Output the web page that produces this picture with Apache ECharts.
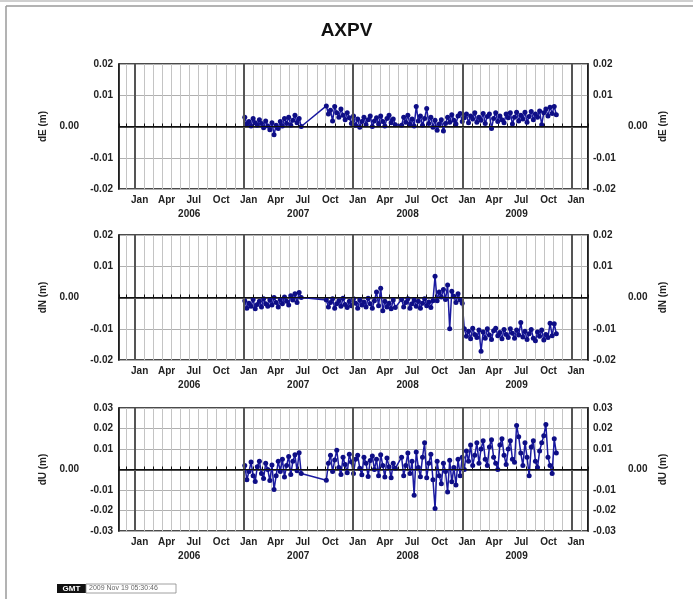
<!DOCTYPE html>
<html>
<head>
<meta charset="utf-8">
<title>AXPV</title>
<script src="https://cdn.jsdelivr.net/npm/echarts@6/dist/echarts.min.js"></script>
<style>
html, body { margin: 0; padding: 0; background: #fff; }
#chart { width: 693px; height: 599px; }
</style>
</head>
<body>
<div id="chart"></div>
<script>
// weekly samples inside each window, the line bridges the gaps between them
var segments = [
    ['2007-01-03', '2007-07-11'],
    ['2007-10-03', '2008-05-21'],
    ['2008-06-11', '2009-11-11']
];

var dE = [
    // 2007 Jan - Jul
    0.0030, 0.0008, 0.0016, 0.0002, 0.0026, 0.0012, 0.0004, 0.0022, 0.0010, -0.0004,
    0.0018, 0.0002, -0.0010, 0.0012, -0.0026, 0.0004, -0.0006, 0.0016, 0.0002, 0.0026,
    0.0010, 0.0030, 0.0004, 0.0020, 0.0036, 0.0012, 0.0026, 0.0000,
    // 2007 Oct - 2008 May
    0.0066, 0.0040, 0.0052, 0.0018, 0.0064, 0.0044, 0.0030, 0.0056, 0.0036, 0.0022,
    0.0044, 0.0028, 0.0010, 0.0034, 0.0004, 0.0024, -0.0002, 0.0016, 0.0030, 0.0006,
    0.0022, 0.0034, 0.0000, 0.0018, 0.0028, 0.0008, 0.0034, 0.0016, 0.0002, 0.0026,
    0.0036, 0.0012, 0.0024, 0.0006,
    // 2008 Jun - 2009 Nov
    0.0004, 0.0030, 0.0014, 0.0036, 0.0008, 0.0024, 0.0002, 0.0064, 0.0018, 0.0034,
    0.0004, 0.0026, 0.0058, 0.0010, 0.0030, -0.0002, 0.0020, -0.0012, 0.0008, 0.0022,
    -0.0014, 0.0010, 0.0030, 0.0014, 0.0038, 0.0020, 0.0008, 0.0034, 0.0042, 0.0016,
    0.0028, 0.0040, 0.0012, 0.0034, 0.0024, 0.0044, 0.0014, 0.0030, 0.0020, 0.0042,
    0.0010, 0.0032, 0.0040, -0.0006, 0.0026, 0.0044, 0.0016, 0.0034, 0.0022, 0.0012,
    0.0040, 0.0028, 0.0044, 0.0008, 0.0030, 0.0046, 0.0018, 0.0036, 0.0024, 0.0046,
    0.0014, 0.0032, 0.0048, 0.0022, 0.0040, 0.0030, 0.0050, 0.0006, 0.0044, 0.0056,
    0.0034, 0.0062, 0.0042, 0.0064, 0.0038
];

var dN = [
    -0.0010, -0.0034, -0.0018, -0.0028, -0.0006, -0.0036, -0.0022, -0.0012, -0.0030, -0.0004,
    -0.0020, -0.0028, -0.0008, -0.0024, 0.0000, -0.0016, -0.0030, -0.0006, -0.0020, 0.0002,
    -0.0012, -0.0024, 0.0006, -0.0008, 0.0012, -0.0016, 0.0016, 0.0000,

    -0.0008, -0.0030, -0.0016, -0.0004, -0.0034, -0.0020, -0.0010, -0.0028, -0.0002, -0.0022,
    -0.0032, -0.0012, -0.0026, -0.0004, -0.0018, -0.0034, -0.0008, -0.0024, -0.0014, -0.0030,
    -0.0002, -0.0020, -0.0034, -0.0010, 0.0018, -0.0026, 0.0030, -0.0042, -0.0012, -0.0030,
    -0.0018, -0.0036, -0.0008, -0.0032,

    -0.0006, -0.0030, -0.0016, -0.0004, -0.0034, -0.0020, -0.0008, -0.0028, -0.0012, -0.0034,
    -0.0018, -0.0004, -0.0026, -0.0014, -0.0032, -0.0010, 0.0068, -0.0010, 0.0018, 0.0002,
    0.0026, -0.0006, 0.0040, -0.0100, 0.0020, 0.0004, -0.0016, 0.0012, -0.0008, -0.0018,
    -0.0100, -0.0124, -0.0108, -0.0132, -0.0098, -0.0118, -0.0128, -0.0104, -0.0172, -0.0110,
    -0.0130, -0.0100, -0.0120, -0.0134, -0.0106, -0.0098, -0.0122, -0.0112, -0.0132, -0.0102,
    -0.0118, -0.0128, -0.0100, -0.0114, -0.0130, -0.0104, -0.0120, -0.0080, -0.0126, -0.0108,
    -0.0134, -0.0116, -0.0102, -0.0130, -0.0138, -0.0110, -0.0124, -0.0104, -0.0136, -0.0118,
    -0.0128, -0.0082, -0.0122, -0.0084, -0.0116
];

var dU = [
    0.0020, -0.0050, -0.0010, 0.0036, -0.0030, -0.0058, 0.0014, 0.0040, -0.0020, -0.0044,
    0.0030, 0.0000, -0.0054, 0.0022, -0.0098, -0.0030, 0.0040, -0.0010, 0.0050, -0.0036,
    0.0020, 0.0064, -0.0024, 0.0040, 0.0072, -0.0006, 0.0082, -0.0020,

    -0.0052, 0.0030, 0.0070, -0.0010, 0.0046, 0.0094, 0.0010, -0.0024, 0.0060, 0.0024,
    -0.0016, 0.0074, 0.0036, -0.0020, 0.0050, 0.0070, 0.0006, -0.0026, 0.0060, 0.0030,
    -0.0034, 0.0044, 0.0066, 0.0000, 0.0050, -0.0030, 0.0072, 0.0020, -0.0036, 0.0056,
    0.0014, -0.0040, 0.0030, 0.0006,

    0.0060, -0.0030, 0.0020, 0.0080, -0.0020, 0.0040, -0.0125, 0.0085, 0.0010, -0.0035,
    0.0060, 0.0130, -0.0040, 0.0030, 0.0075, -0.0050, -0.0190, 0.0040, -0.0030, -0.0070,
    0.0030, -0.0010, -0.0110, 0.0045, -0.0060, 0.0010, -0.0075, 0.0050, -0.0030, 0.0060,
    0.0000, 0.0090, 0.0040, 0.0120, 0.0020, 0.0070, 0.0130, 0.0030, 0.0100, 0.0140,
    0.0050, 0.0020, 0.0110, 0.0145, 0.0060, 0.0030, 0.0000, 0.0120, 0.0150, 0.0070,
    0.0025, 0.0100, 0.0140, 0.0050, 0.0035, 0.0215, 0.0160, 0.0080, 0.0020, 0.0130,
    0.0060, -0.0030, 0.0110, 0.0140, 0.0040, 0.0010, 0.0090, 0.0130, 0.0165, 0.0220,
    0.0060, 0.0020, -0.0020, 0.0150, 0.0080
];

var quarterNames = ['Jan', 'Apr', 'Jul', 'Oct'];
var yearLines = ['2006-01-01', '2007-01-01', '2008-01-01', '2009-01-01', '2010-01-01'];
var timeStart = '2005-11-08';
var timeEnd = '2010-02-25';

var panels = [
    { name: 'dE (m)', values: dE, min: -0.02, max: 0.02, top: 64, height: 125 },
    { name: 'dN (m)', values: dN, min: -0.02, max: 0.02, top: 235, height: 125 },
    { name: 'dU (m)', values: dU, min: -0.03, max: 0.03, top: 408, height: 123 }
];

function utc(s) {
    return Date.parse(s + 'T00:00:00Z');
}

var dates = [];
segments.forEach(function (s) {
    for (var t = utc(s[0]); t <= utc(s[1]); t += 7 * 864e5) {
        dates.push(t);
    }
});

var labelFont = { fontFamily: 'Liberation Sans', fontSize: 10, fontWeight: 'bold', color: '#222' };

function yLabel(v) {
    if (Math.abs(v) < 1e-9) return '{z|0.00}';
    return v.toFixed(2);
}

function xLabel(v) {
    var d = new Date(v);
    if (d.getUTCDate() !== 1 || d.getUTCMonth() % 3) return '';
    var m = d.getUTCMonth();
    var s = '{m|' + quarterNames[m / 3] + '}';
    if (m === 6) s += '\n{y|' + d.getUTCFullYear() + '}';
    return s;
}

var grid = [], xAxis = [], yAxis = [], series = [];

panels.forEach(function (p, i) {
    grid.push({
        left: 119, right: 105, top: p.top, height: p.height,
        show: true, borderColor: '#111', borderWidth: 1.5, backgroundColor: 'transparent'
    });
    xAxis.push({
        type: 'time',
        gridIndex: i,
        min: utc(timeStart),
        max: utc(timeEnd),
        minInterval: 40 * 864e5,
        maxInterval: 40 * 864e5,
        axisLine: { show: true, lineStyle: { color: '#111', width: 1.5 } },
        axisTick: { show: true, inside: true, length: 3, lineStyle: { color: '#111' } },
        splitLine: { show: true, lineStyle: { color: '#c4c4c4', width: 1 } },
        axisLabel: {
            interval: 0,
            margin: 4,
            formatter: xLabel,
            hideOverlap: false,
            showMinLabel: true,
            showMaxLabel: true,
            rich: {
                m: Object.assign({ padding: [0, 0, 0, 9], lineHeight: 14 }, labelFont),
                y: Object.assign({ lineHeight: 14 }, labelFont)
            }
        }
    });
    [0, 1].forEach(function (side) {
        yAxis.push({
            type: 'value',
            gridIndex: i,
            position: side ? 'right' : 'left',
            min: p.min,
            max: p.max,
            interval: 0.01,
            name: p.name,
            nameLocation: 'middle',
            nameRotate: 90,
            nameGap: side ? 64 : 70,
            nameTextStyle: labelFont,
            axisLine: { show: true, lineStyle: { color: '#111', width: 1.5 } },
            axisTick: { show: false },
            splitLine: { show: !side, lineStyle: { color: '#b0b0b0', width: 1 } },
            axisLabel: Object.assign({
                margin: side ? 5 : 6,
                formatter: yLabel,
                rich: { z: Object.assign({ padding: side ? [0, 0, 0, 35] : [0, 34, 0, 0] }, labelFont) }
            }, labelFont)
        });
    });
    // year lines and the zero line
    series.push({
        type: 'line',
        xAxisIndex: i,
        yAxisIndex: i * 2,
        data: [],
        silent: true,
        z: 1,
        markLine: {
            silent: true,
            symbol: 'none',
            label: { show: false },
            animation: false,
            data: yearLines.map(function (y) {
                return { xAxis: utc(y), lineStyle: { color: '#555', width: 2, type: 'solid' } };
            }).concat([{ yAxis: 0, lineStyle: { color: '#111', width: 1, type: 'solid' } }])
        }
    });
    series.push({
        type: 'line',
        xAxisIndex: i,
        yAxisIndex: i * 2,
        z: 3,
        data: dates.map(function (t, k) { return [t, p.values[k]]; }),
        symbol: 'circle',
        symbolSize: 5,
        itemStyle: { color: '#0e0e86' },
        lineStyle: { color: '#1a1aa0', width: 1.5 },
        animation: false
    });
});

var chart = echarts.init(document.getElementById('chart'));
chart.setOption({
    useUTC: true,
    animation: false,
    backgroundColor: '#fff',
    title: {
        text: 'AXPV',
        left: 'center',
        top: 16,
        textStyle: { fontFamily: 'Liberation Sans', fontSize: 19, fontWeight: 'bold', color: '#111' }
    },
    grid: grid,
    xAxis: xAxis,
    yAxis: yAxis,
    series: series,
    graphic: [
        { type: 'line', shape: { x1: 0, y1: 1, x2: 693, y2: 1 }, style: { stroke: '#cfcfcf', lineWidth: 2 } },
        { type: 'line', shape: { x1: 6, y1: 6, x2: 693, y2: 6 }, style: { stroke: '#9a9a9a', lineWidth: 1.5 } },
        { type: 'line', shape: { x1: 6, y1: 6, x2: 6, y2: 599 }, style: { stroke: '#9a9a9a', lineWidth: 1.5 } },
        { type: 'rect', shape: { x: 57, y: 584, width: 29, height: 9 }, style: { fill: '#111' } },
        { type: 'text', x: 71.5, y: 588.5, style: { text: 'GMT', fill: '#fff', font: 'bold 8px Liberation Sans', align: 'center', verticalAlign: 'middle' } },
        { type: 'rect', shape: { x: 86, y: 584, width: 90, height: 9 }, style: { fill: '#fff', stroke: '#888', lineWidth: 0.8 } },
        { type: 'text', x: 89, y: 588.5, style: { text: '2009 Nov 19 05:30:46', fill: '#666', font: '7px Liberation Sans', verticalAlign: 'middle' } }
    ]
});
</script>
</body>
</html>
